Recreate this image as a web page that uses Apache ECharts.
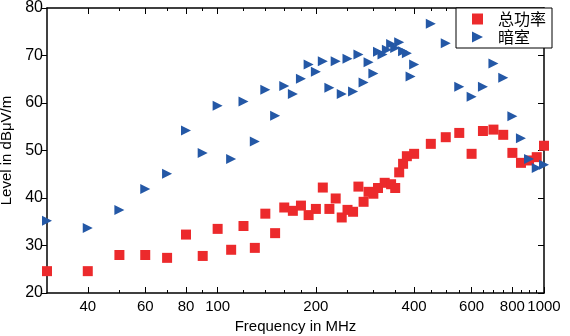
<!DOCTYPE html>
<html>
<head>
<meta charset="utf-8">
<script src="https://cdn.jsdelivr.net/npm/echarts@6/dist/echarts.min.js"></script>
<style>
  html, body { margin: 0; padding: 0; background: #fff; }
  #chart { width: 570px; height: 336px; }
</style>
</head>
<body>
<div id="chart"></div>
<script>
// Total power measurement (MHz, dBµV/m)
const powerFreq = [30, 40, 50, 60, 70, 80, 90, 100, 110, 120, 130, 140, 150, 160, 170, 180, 190, 200,
  210, 220, 230, 240, 250, 260, 270, 280, 290, 300, 310, 325, 340, 350, 360, 370, 380, 400,
  450, 500, 550, 600, 650, 700, 750, 800, 850, 900, 950, 1000];
const powerLevel = [24.6, 24.6, 28.0, 28.0, 27.4, 32.3, 27.8, 33.5, 29.1, 34.1, 29.5, 36.7, 32.6, 38.0, 37.3, 38.4, 36.4, 37.7,
  42.2, 37.7, 39.9, 35.9, 37.5, 37.1, 42.4, 39.2, 41.3, 40.9, 42.1, 43.2, 42.9, 42.1, 45.4, 47.2, 48.8, 49.3,
  51.4, 52.8, 53.7, 49.3, 54.1, 54.4, 53.3, 49.5, 47.4, 47.9, 48.6, 51.0];

// Anechoic chamber measurement (MHz, dBµV/m)
const chamberFreq = [30, 40, 50, 60, 70, 80, 90, 100, 110, 120, 130, 140, 150, 160, 170, 180, 190, 200,
  210, 220, 230, 240, 250, 260, 270, 280, 290, 300, 310, 320, 330, 340, 350, 360, 370, 380, 390, 400,
  450, 500, 550, 600, 650, 700, 750, 800, 850, 900, 950, 1000];
const chamberLevel = [35.2, 33.7, 37.5, 41.9, 45.1, 54.2, 49.5, 59.4, 48.2, 60.3, 51.9, 62.8, 57.3, 63.6, 61.9, 65.1, 68.1, 66.6,
  68.8, 63.2, 68.8, 61.9, 69.3, 62.4, 70.2, 64.3, 68.6, 66.2, 70.8, 70.2, 71.2, 72.4, 71.6, 72.8, 70.9, 70.5, 65.6, 68.1,
  76.7, 72.6, 63.4, 61.3, 63.4, 68.3, 65.3, 57.2, 52.6, 48.2, 46.3, 47.0];

const freqTicks = [40, 60, 80, 100, 200, 400, 600, 800, 1000];
const freqMinorTicks = [50, 70, 90, 120, 140, 160, 180, 250, 300, 350, 450, 500, 550, 650, 700, 750, 850, 900, 950];
const levelTicks = [20, 30, 40, 50, 60, 70, 80];

const FREQ_MIN = 30;
const FREQ_MAX = 1000;

const FONT = '"Liberation Sans", Arial, sans-serif';
const AXIS_COLOR = '#000';

// One frequency axis layer: major or minor ticks, bottom or top of the frame.
function freqAxis(position, ticks, len, withLine, withLabels) {
  return {
    type: 'log', logBase: 10, min: FREQ_MIN, max: FREQ_MAX, position,
    axisLine: { show: withLine, onZero: false, lineStyle: { color: AXIS_COLOR, width: 1.5 } },
    axisTick: { show: true, inside: true, length: len, customValues: ticks,
      lineStyle: { color: AXIS_COLOR, width: 1 } },
    axisLabel: withLabels
      ? { show: true, customValues: ticks, color: '#000', fontFamily: FONT, fontSize: 15, margin: 6,
          hideOverlap: false, showMinLabel: true, showMaxLabel: true,
          formatter: v => String(Math.round(v)) }
      : { show: false },
    splitLine: { show: false }, minorTick: { show: false }
  };
}

const chart = echarts.init(document.getElementById('chart'), null, { renderer: 'canvas' });
chart.setOption({
  animation: false,
  backgroundColor: '#fff',
  grid: { left: 47, right: 26, top: 8, bottom: 43, containLabel: false, outerBoundsMode: 'none' },
  xAxis: [
    Object.assign(freqAxis('bottom', freqTicks, 6, true, true), {
      name: 'Frequency in MHz', nameLocation: 'middle', nameGap: 24,
      nameTextStyle: { color: '#000', fontFamily: FONT, fontSize: 15 }
    }),
    freqAxis('bottom', freqMinorTicks, 3, false, false),
    freqAxis('top', freqTicks, 6, true, false),
    freqAxis('top', freqMinorTicks, 3, false, false)
  ],
  yAxis: [
    {
      type: 'value', min: 20, max: 80, interval: 10, position: 'left',
      name: 'Level in dBμV/m', nameLocation: 'middle', nameGap: 30,
      nameTextStyle: { color: '#000', fontFamily: FONT, fontSize: 15 },
      axisLine: { show: true, onZero: false, lineStyle: { color: AXIS_COLOR, width: 1.5 } },
      axisTick: { show: true, inside: false, length: 6, lineStyle: { color: AXIS_COLOR } },
      axisLabel: { color: '#000', fontFamily: FONT, fontSize: 16, margin: 4,
        formatter: v => (levelTicks.indexOf(v) >= 0 ? String(v) : '') },
      splitLine: { show: false }
    },
    {
      type: 'value', min: 20, max: 80, interval: 10, position: 'right',
      axisLine: { show: true, onZero: false, lineStyle: { color: AXIS_COLOR, width: 1.5 } },
      axisTick: { show: true, inside: true, length: 6, lineStyle: { color: AXIS_COLOR } },
      axisLabel: { show: false },
      splitLine: { show: false }
    }
  ],
  legend: {
    orient: 'vertical', left: 456, top: 8,
    padding: [3, 6, 3, 16], itemGap: 2,
    itemWidth: 11, itemHeight: 11,
    borderColor: '#000', borderWidth: 1, borderRadius: 0,
    backgroundColor: '#fff',
    textStyle: { color: '#000', fontFamily: '"Noto Sans CJK SC", sans-serif', fontSize: 16, padding: [0, 0, 0, 10] },
    data: [
      { name: '总功率', icon: 'rect', itemStyle: { opacity: 1 } },
      { name: '暗室', icon: 'path://M0,0 L10,5 L0,10 Z', itemStyle: { opacity: 1 } }
    ]
  },
  series: [
    {
      name: '总功率', type: 'scatter', xAxisIndex: 0, yAxisIndex: 0,
      symbol: 'rect', symbolSize: 10,
      itemStyle: { color: '#EC2A2C', opacity: 1 },
      data: powerFreq.map((f, i) => [f, powerLevel[i]]), z: 2
    },
    {
      name: '暗室', type: 'scatter', xAxisIndex: 0, yAxisIndex: 0,
      symbol: 'triangle', symbolRotate: -90, symbolSize: [10, 10],
      itemStyle: { color: '#2458A6', opacity: 1 },
      data: chamberFreq.map((f, i) => [f, chamberLevel[i]]), z: 3
    }
  ]
});
</script>
</body>
</html>
